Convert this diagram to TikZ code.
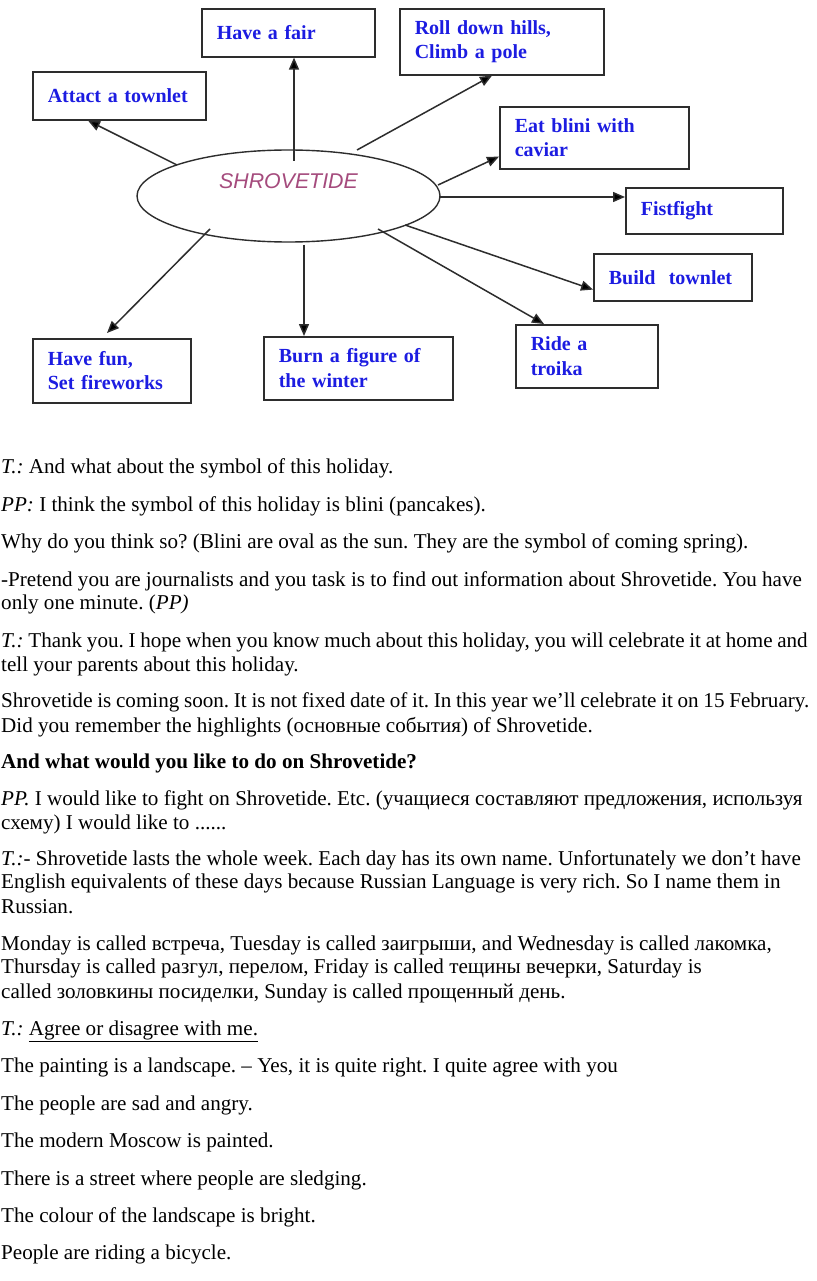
\documentclass[tikz,border=0pt]{standalone}
\usepackage{fontspec}
\setmainfont{Liberation Serif}
\newfontfamily\arialfont{Liberation Sans}
\usetikzlibrary{arrows.meta,shapes.geometric,calc}
\definecolor{boxblue}{RGB}{28,28,225}
\definecolor{edgegray}{RGB}{45,45,45}
\definecolor{mauve}{RGB}{165,75,125}
\newcommand\tightsp{\spaceskip=4.7pt plus 1pt minus 1pt\relax}
\begin{document}
\frenchspacing
\begin{tikzpicture}[x=1pt,y=-1pt,
  catbox/.style={draw=edgegray, line width=1.6pt, anchor=north west, inner xsep=15pt, inner ysep=0pt,
    align=left, text=boxblue, font=\fontsize{20}{24.5}\selectfont\bfseries},
  conn/.style={draw=edgegray, line width=1.5pt, -{Triangle[length=12pt,width=10pt,fill=black]}},
  bodytext/.style={anchor=base west, inner sep=0pt, font=\fontsize{21.1}{24.5}\selectfont\frenchspacing}]
\useasboundingbox (0,0) rectangle (816,1281);
\fill[white] (0,0) rectangle (816,1281);
% central ellipse
\node[ellipse, draw=edgegray, line width=1.4pt, minimum width=303pt, minimum height=92pt, inner sep=0pt] (sh) at (288.5,196) {};
\node[anchor=base, inner sep=0pt, text=mauve, font=\arialfont\itshape\fontsize{21.33}{24}\selectfont] (shl) at (288.5,189) {SHROVETIDE};
% boxes
\node[catbox, text width=143pt, minimum width=173pt, minimum height=48pt] (fair) at (201,8) {Have a fair};
\node[catbox, text width=143pt, minimum width=173pt, minimum height=48pt] (att) at (32,71) {Attact a townlet};
\node[catbox, text width=174pt, minimum width=204pt, minimum height=66pt] (roll) at (399,8) {Roll down hills,\\Climb a pole};
\node[catbox, text width=159pt, minimum width=189pt, minimum height=62pt] (eat) at (499,106) {Eat blini with\\caviar};
\node[catbox, text width=127pt, minimum width=157pt, minimum height=46pt] (fist) at (625,187) {Fistfight};
\node[catbox, text width=128pt, minimum width=158pt, minimum height=47pt] (build) at (593,253) {Build\ \ townlet};
\node[catbox, text width=112pt, minimum width=142pt, minimum height=63pt] (ride) at (515,324) {Ride a\\troika};
\node[catbox, text width=159pt, minimum width=189pt, minimum height=63pt] (burn) at (263,336) {Burn a figure of\\the winter};
\node[catbox, text width=128pt, minimum width=158pt, minimum height=64pt] (fun) at (32,338) {Have fun,\\Set fireworks};
% connectors
\draw[conn] ($(sh.center)+(-111.5,-31)$) -- ($(att.south west)+(56,0)$);
\draw[conn] ($(sh.center)+(5.5,-35)$) -- ($(fair.south west)+(93,0)$);
\draw[conn] ($(sh.center)+(68.5,-46)$) -- ($(roll.south west)+(93,0)$);
\draw[conn] ($(sh.center)+(149.5,-11)$) -- ($(eat.south west)+(0,-13)$);
\draw[conn] ($(sh.center)+(150.5,1)$) -- ($(fist.north west)+(0,10)$);
\draw[conn] ($(sh.center)+(116.5,29)$) -- ($(build.south west)+(0,-12)$);
\draw[conn] ($(sh.center)+(89.5,33)$) -- ($(ride.north west)+(29,0)$);
\draw[conn] ($(sh.center)+(15.5,49)$) -- ($(burn.north west)+(41,0)$);
\draw[conn] ($(sh.center)+(-78.5,33)$) -- ($(fun.north west)+(75,-5)$);
% body text
\node[bodytext] (t1) at (1,473) {\textit{T.:} And what about the symbol of this holiday.};
\node[bodytext] (t2) at (1,511) {\textit{PP:} I think the symbol of this holiday is blini (pancakes).};
\node[bodytext] (t3) at (1,548) {Why do you think so? (Blini are oval as the sun. They are the symbol of coming spring).};
\node[bodytext] (t4) at (1,586) {-Pretend you are journalists and you task is to find out information about Shrovetide. You have};
\node[bodytext] (t5) at (1,609) {only one minute. (\textit{PP)}};
\node[bodytext] (t6) at (1,647) {\tightsp\textit{T.:} Thank you. I hope when you know much about this holiday, you will celebrate it at home and};
\node[bodytext] (t7) at (1,671) {tell your parents about this holiday.};
\node[bodytext] (t8) at (1,707) {\tightsp Shrovetide is coming soon. It is not fixed date of it. In this year we’ll celebrate it on 15 February.};
\node[bodytext] (t9) at (1,732) {Did you remember the highlights (основные события) of Shrovetide.};
\node[bodytext] (t10) at (1,768) {\textbf{And what would you like to do on Shrovetide?}};
\node[bodytext] (t11) at (1,805) {\textit{PP.} I would like to fight on Shrovetide. Etc. (учащиеся составляют предложения, используя};
\node[bodytext] (t12) at (1,829) {схему) I would like to ......};
\node[bodytext] (t13) at (1,865) {\textit{T.:}- Shrovetide lasts the whole week. Each day has its own name. Unfortunately we don’t have};
\node[bodytext] (t14) at (1,888) {English equivalents of these days because Russian Language is very rich. So I name them in};
\node[bodytext] (t15) at (1,913) {Russian.};
\node[bodytext] (t16) at (1,950) {Monday is called встреча, Tuesday is called заигрыши, and Wednesday is called лакомка,};
\node[bodytext] (t17) at (1,973) {Thursday is called разгул, перелом, Friday is called тещины вечерки, Saturday is};
\node[bodytext] (t18) at (1,998) {called золовкины посиделки, Sunday is called прощенный день.};
\node[bodytext] (t19) at (1,1035) {\textit{T.:} \underline{Agree or disagree with me.}};
\node[bodytext] (t20) at (1,1072) {The painting is a landscape. – Yes, it is quite right. I quite agree with you};
\node[bodytext] (t21) at (1,1110) {The people are sad and angry.};
\node[bodytext] (t22) at (1,1147) {The modern Moscow is painted.};
\node[bodytext] (t23) at (1,1185) {There is a street where people are sledging.};
\node[bodytext] (t24) at (1,1222) {The colour of the landscape is bright.};
\node[bodytext] (t25) at (1,1259) {People are riding a bicycle.};
\end{tikzpicture}
\end{document}
